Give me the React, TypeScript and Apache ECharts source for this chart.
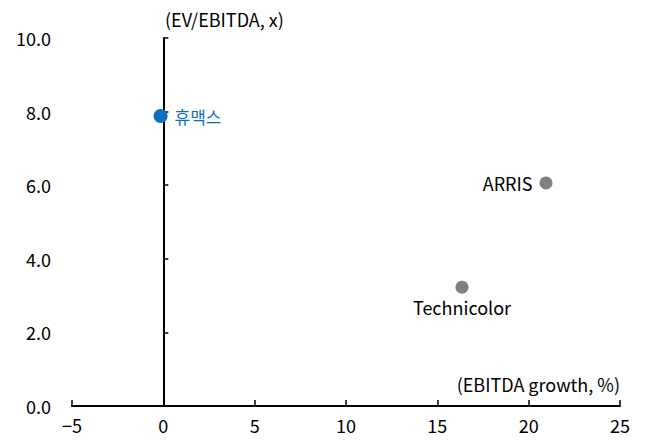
import React, { useEffect, useRef } from "react";
import * as echarts from "echarts";

const names = ["휴맥스", "ARRIS", "Technicolor"];
const growth = [-0.15, 20.95, 16.35];
const evEbitda = [7.88, 6.06, 3.23];
const colors = ["#0A70C4", "#808080", "#808080"];
const labelPos = ["right", "left", "bottom"];
const xTicks = [-5, 25, 5];
const yTicks = [0, 10, 2];

const FONT = "'Noto Sans CJK KR', 'Noto Sans', sans-serif";

export default function App() {
  const ref = useRef<HTMLDivElement>(null);
  useEffect(() => {
    const chart = echarts.init(ref.current!, null, { renderer: "svg" });
    const left = 72, right = 30, width = 650 - left - right;
    const zeroOffset = ((0 - xTicks[0]) / (xTicks[1] - xTicks[0])) * width;
    chart.setOption({
      animation: false,
      textStyle: { fontFamily: FONT },
      grid: { left, right, top: 38, bottom: 35 },
      xAxis: {
        type: "value",
        min: xTicks[0],
        max: xTicks[1],
        interval: xTicks[2],
        splitLine: { show: false },
        axisLine: { onZero: false, lineStyle: { color: "#000", width: 2 } },
        axisTick: { show: true, inside: true, length: 6, lineStyle: { color: "#000", width: 1.5 } },
        axisLabel: {
          color: "#000",
          fontSize: 18,
          margin: 10,
          fontFamily: FONT,
          formatter: (v: number) => (v < 0 ? "\u2212" + Math.abs(v) : String(v)),
        },
      },
      yAxis: [
        {
          type: "value",
          min: yTicks[0],
          max: yTicks[1],
          interval: yTicks[2],
          position: "left",
          splitLine: { show: false },
          axisLine: { show: false },
          axisTick: { show: false },
          axisLabel: {
            color: "#000",
            fontSize: 18,
            margin: 21,
            fontFamily: FONT,
            formatter: (v: number) => v.toFixed(1),
          },
        },
        {
          type: "value",
          min: yTicks[0],
          max: yTicks[1],
          interval: yTicks[2],
          position: "left",
          offset: -zeroOffset,
          splitLine: { show: false },
          axisLine: { show: true, onZero: false, lineStyle: { color: "#000", width: 2 } },
          axisTick: { show: true, inside: true, length: 5, lineStyle: { color: "#000", width: 1.5 } },
          axisLabel: { show: false },
        },
      ],
      graphic: [
        {
          type: "text",
          x: 165,
          y: 19,
          style: {
            text: "(EV/EBITDA, x)",
            fontSize: 18,
            fontFamily: FONT,
            fill: "#000",
            textAlign: "left",
            textVerticalAlign: "middle",
          },
        },
        {
          type: "text",
          x: 620,
          y: 384,
          style: {
            text: "(EBITDA growth, %)",
            fontSize: 18,
            fontFamily: FONT,
            fill: "#000",
            textAlign: "right",
            textVerticalAlign: "middle",
          },
        },
      ],
      series: names.map((n, i) => ({
        type: "scatter",
        name: n,
        yAxisIndex: 0,
        symbolSize: i === 0 ? 14 : 13,
        z: 5,
        data: [[growth[i], evEbitda[i]]],
        itemStyle: { color: colors[i], opacity: 1 },
        label: {
          show: true,
          position: labelPos[i],
          distance: i === 2 ? 4 : 7,
          formatter: n,
          color: i === 0 ? colors[0] : "#000",
          fontSize: i === 0 ? 17 : 18,
          fontFamily: FONT,
        },
      })),
    });
    return () => chart.dispose();
  }, []);
  return <div ref={ref} style={{ width: 650, height: 441, position: "absolute", left: 0, top: 0 }} />;
}
